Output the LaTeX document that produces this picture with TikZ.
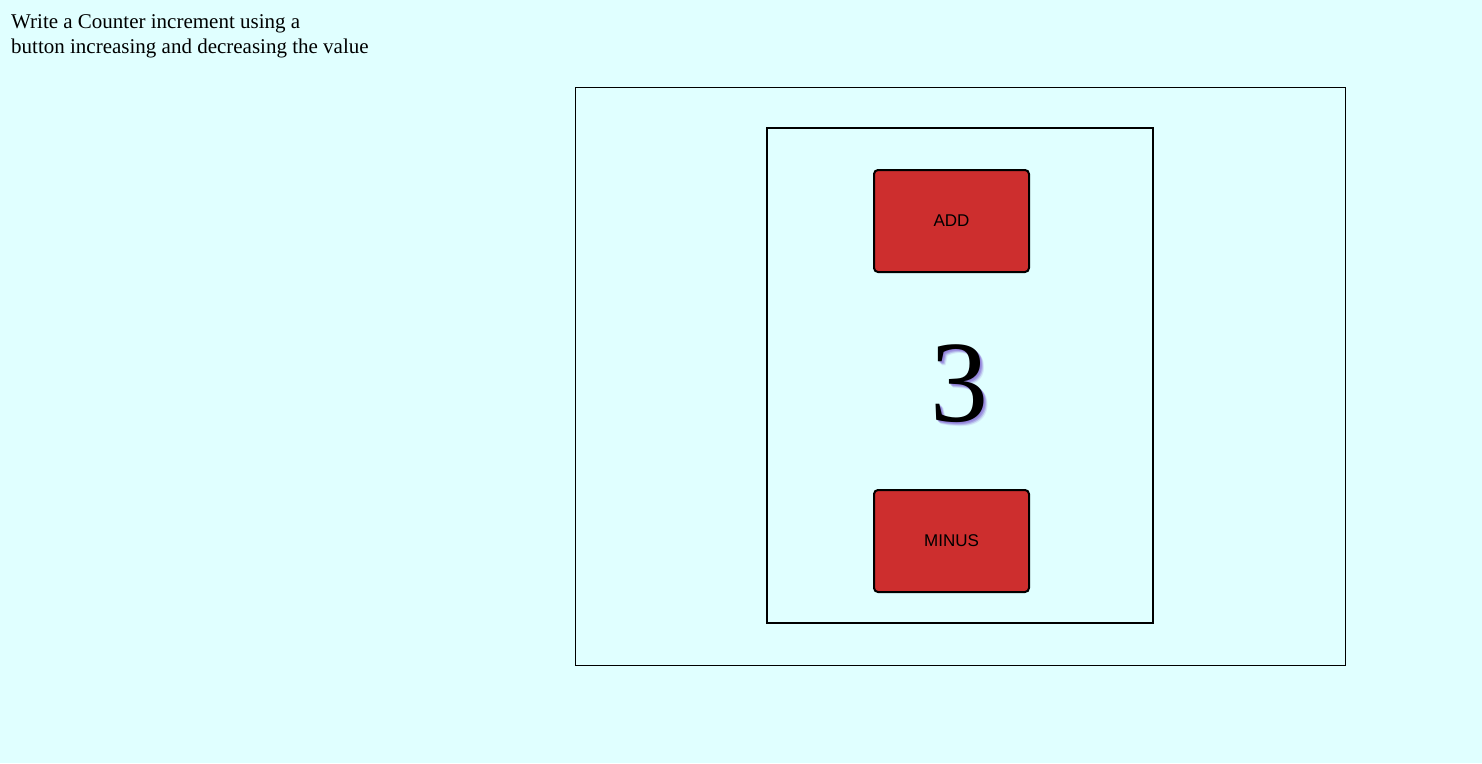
\documentclass[tikz,border=0pt]{standalone}
\usepackage{fontspec}
\setmainfont{Liberation Serif}
\newfontfamily\btnfont{Liberation Sans}
\definecolor{bgcyan}{HTML}{E0FFFF}
\definecolor{btnred}{HTML}{CD2E2E}
\definecolor{shadowpurple}{HTML}{7B5CD0}
\tikzset{
  outerbox/.style={draw=black, line width=1pt},
  innerbox/.style={draw=black, line width=2pt},
  btnbox/.style={draw=black, fill=btnred, line width=2pt, rounded corners=4pt,
    minimum width=155pt, minimum height=102pt, inner sep=0pt,
    font=\btnfont\fontsize{17}{20}\selectfont},
  numtext/.style={inner sep=0pt, font=\fontsize{116}{120}\selectfont},
  titletext/.style={anchor=north west, inner sep=0pt, align=left,
    font=\fontsize{21}{25}\selectfont}
}
\begin{document}
\begin{tikzpicture}[x=1pt, y=-1pt]
\fill[bgcyan] (0,0) rectangle (1482,763);
\useasboundingbox (0,0) rectangle (1482,763);
\node[titletext] (title) at (11,14) {Write a Counter increment using a\\button increasing and decreasing the value};
\node[outerbox, minimum width=770pt, minimum height=578pt, inner sep=0pt] (outer) at (960.5,376) {};
\node[innerbox, minimum width=386pt, minimum height=495pt, inner sep=0pt] (inner) at (960,375.5) {};
\node[btnbox] (add) at (951.5,221) {ADD};
\node[btnbox] (minus) at (951.5,541) {MINUS};
\foreach \dx/\op in {1/0.3,2/0.4,3/0.3,4/0.15}{
  \node[numtext, text=shadowpurple, opacity=\op] at (959+\dx,384+\dx) {3};
}
\node[numtext] (num) at (959,384) {3};
\end{tikzpicture}
\end{document}
